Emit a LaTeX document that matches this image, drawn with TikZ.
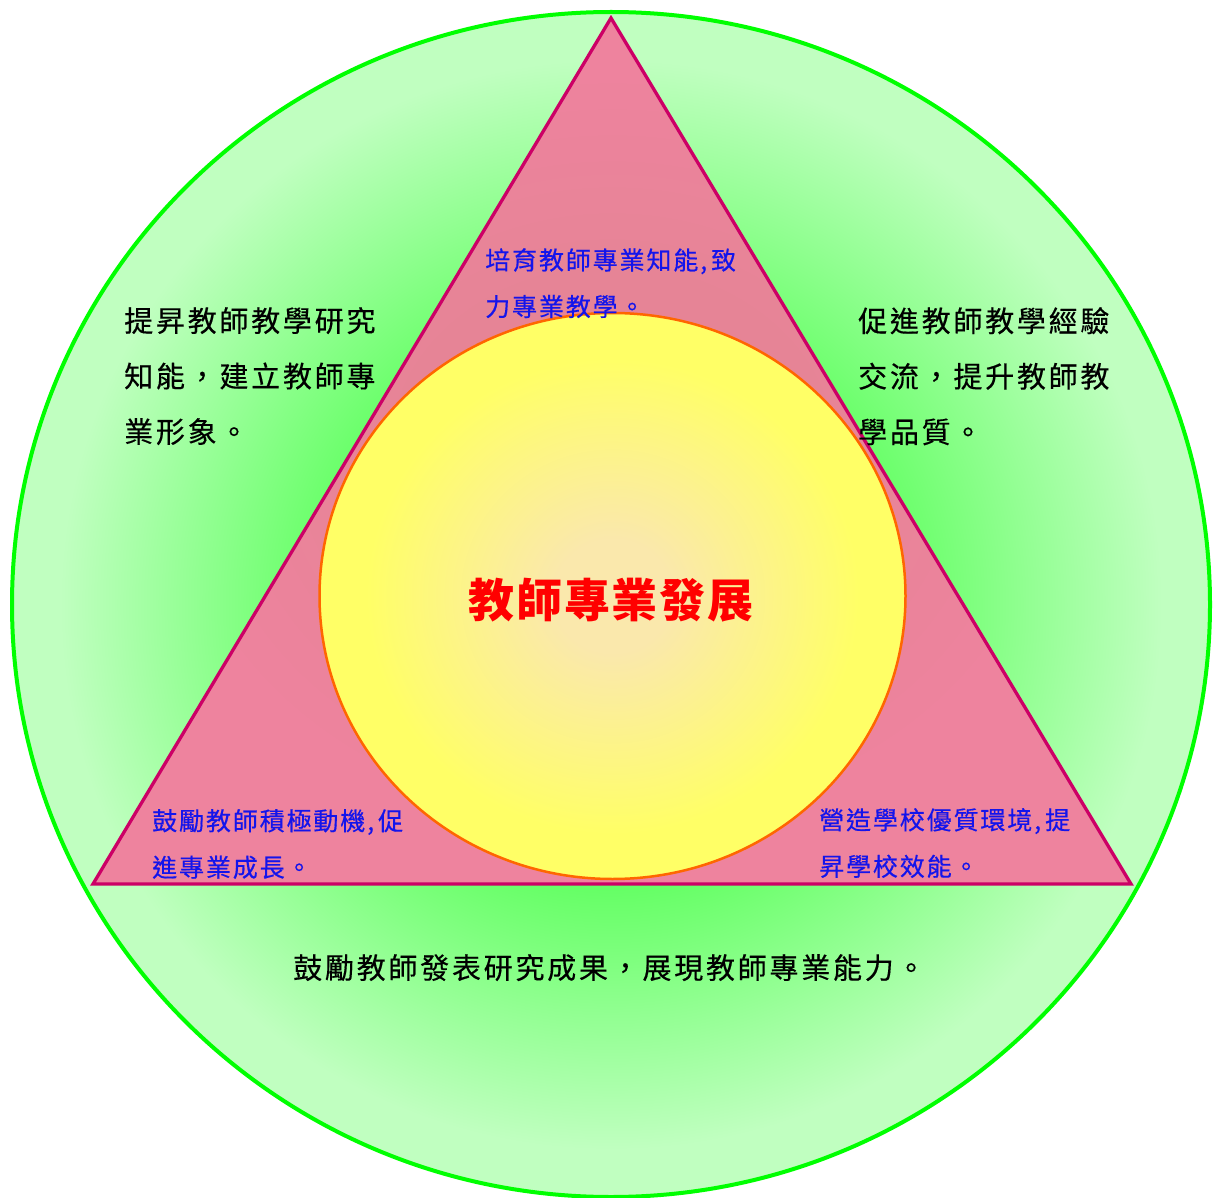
\documentclass[tikz,border=0pt]{standalone}
\usepackage{fontspec}
\setmainfont{Noto Sans CJK TC}
\newfontfamily\cjkblack[LetterSpace=9.5,FakeBold=0.4]{Noto Sans CJK TC}
\newfontfamily\cjkblue[LetterSpace=7.5,FakeBold=0.5]{Noto Sans CJK TC}
\newfontfamily\cjkred[LetterSpace=4]{Noto Sans CJK TC}
\definecolor{gA}{RGB}{102,255,102}
\definecolor{gB}{RGB}{192,255,192}
\definecolor{gLine}{RGB}{0,255,0}
\definecolor{pA}{RGB}{230,132,150}
\definecolor{pB}{RGB}{238,131,158}
\definecolor{pLine}{RGB}{204,0,102}
\definecolor{yA}{RGB}{250,232,172}
\definecolor{yB}{RGB}{255,255,102}
\definecolor{yLine}{RGB}{255,102,0}
\definecolor{txtblue}{RGB}{20,20,235}
\pgfdeclareradialshading{greenshade}{\pgfpoint{0bp}{0bp}}{color(0bp)=(gA); color(12bp)=(gA); color(23bp)=(gB); color(25bp)=(gB); color(50bp)=(gB)}
\pgfdeclareradialshading{pinkshade}{\pgfpoint{0bp}{0bp}}{color(0bp)=(pA); color(10bp)=(pA); color(22bp)=(pB); color(50bp)=(pB)}
\pgfdeclareradialshading{yellowshade}{\pgfpoint{0bp}{0bp}}{color(0bp)=(yA); color(5bp)=(yA); color(21bp)=(yB); color(25bp)=(yB); color(50bp)=(yB)}
\tikzset{
  blacktxt/.style={anchor=north west, inner sep=0pt, align=left, text=black,
    font=\cjkblack\fontsize{29}{55.5}\selectfont},
  bluetxt/.style={anchor=north west, inner sep=0pt, align=left, text=txtblue,
    font=\cjkblue\fontsize{25}{46.5}\selectfont},
  redtxt/.style={inner sep=0pt, text=red, font=\cjkred\bfseries\fontsize{46}{50}\selectfont},
}
\begin{document}
\begin{tikzpicture}[x=1pt,y=-1pt]
\useasboundingbox (0,0) rectangle (1216,1198);
% outer green ellipse
\path[shading=greenshade] (611,604.5) ellipse [x radius=599, y radius=592.5];
\draw[gLine, line width=4pt] (611,604.5) ellipse [x radius=599, y radius=592.5];
% triangle
\coordinate (apex) at (611,18);
\coordinate (bl) at (93,884);
\coordinate (br) at (1131,884);
\path[shading=pinkshade] (apex) -- (bl) -- (br) -- cycle;
\draw[pLine, line width=3.3pt, line join=miter] (apex) -- (bl) -- (br) -- cycle;
% inner yellow ellipse
\path[shading=yellowshade] (612.5,596) ellipse [x radius=293, y radius=283];
\draw[yLine, line width=2.5pt] (612.5,596) ellipse [x radius=293, y radius=283];
% texts
\node[redtxt] (core) at (611,600) {教師專業發展};
\node[bluetxt] (top) at (485,248) {培育教師專業知能{,}\kern4pt致\\力專業教學。};
\node[bluetxt] (left) at (152,809) {鼓勵教師積極動機{,}\kern4pt促\\進專業成長。};
\node[bluetxt] (right) at (819,808) {營造學校優質環境{,}\kern4pt提\\昇學校效能。};
\node[blacktxt] (ltxt) at (124,307) {提昇教師教學研究\\知能，建立教師專\\業形象。};
\node[blacktxt] (rtxt) at (858,307) {促進教師教學經驗\\交流，提升教師教\\學品質。};
\node[blacktxt] (btxt) at (293,954) {鼓勵教師發表研究成果，展現教師專業能力。};
\end{tikzpicture}
\end{document}
